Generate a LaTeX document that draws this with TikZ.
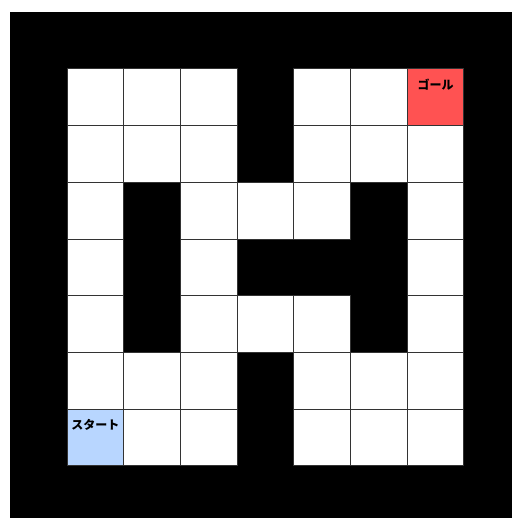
\documentclass[tikz,border=0pt]{standalone}
\usepackage{fontspec}
\newfontfamily\jpfont{Noto Sans CJK JP}
\usetikzlibrary{positioning}
\definecolor{startblue}{HTML}{B8D6FF}
\definecolor{goalred}{HTML}{FF5252}

\begin{document}
\begin{tikzpicture}[
    x=1pt, y=-1pt,
    cell/.style={rectangle, draw=black!80, line width=1pt, fill=white, minimum size=56.7pt, inner sep=0pt, outer sep=0pt},
    startcell/.style={cell, fill=startblue},
    goalcell/.style={cell, fill=goalred},
    tag/.style={font=\jpfont\bfseries\fontsize{12}{14}\selectfont, inner sep=0pt}
]
\useasboundingbox (0,0) rectangle (512,518);
% walls
\fill[black] (10,12) rectangle (512,518);

% open cells (row/column)
\foreach \r/\c in {0/0,0/1,0/2,0/4,0/5,
                   1/0,1/1,1/2,1/4,1/5,1/6,
                   2/0,2/2,2/3,2/4,2/6,
                   3/0,3/2,3/6,
                   4/0,4/2,4/3,4/4,4/6,
                   5/0,5/1,5/2,5/4,5/5,5/6,
                   6/1,6/2,6/4,6/5,6/6}
  \node[cell] (c-\r-\c) at ({67+56.7*(\c+0.5)},{69+56.7*(\r+0.5)}) {};

\node[goalcell] (goal) at ({67+56.7*6.5},{69+56.7*0.5}) {};
\node[startcell] (start) at ({67+56.7*0.5},{69+56.7*6.5}) {};

\node[tag, below=10pt of goal.north] (goaltext) {ゴール};
\node[tag, below=10pt of start.north] (starttext) {スタート};
\end{tikzpicture}
\end{document}
